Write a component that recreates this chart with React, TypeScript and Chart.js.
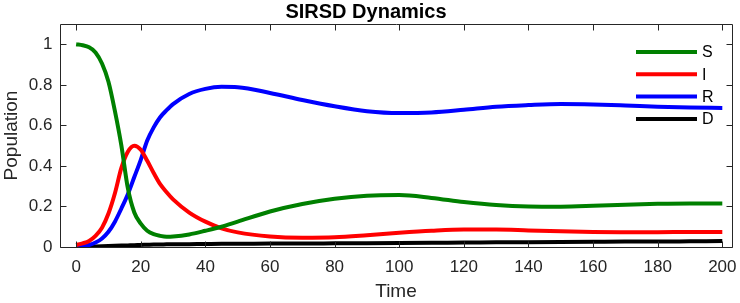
import React, { useEffect, useRef } from 'react';
import { Chart, registerables } from 'chart.js';

Chart.register(...registerables);

const TITLE = 'SIRSD Dynamics';
const X_LABEL = 'Time';
const Y_LABEL = 'Population';

const TIME = [0, 2, 4, 6, 8, 10, 12, 14, 16, 18, 20, 22, 24, 26, 28, 30, 35, 40, 45, 50, 60, 70, 80, 90, 100, 110, 120, 130, 140, 150, 160, 170, 180, 190, 200];

const S_VALUES = [1.0, 0.995, 0.985, 0.96, 0.905, 0.815, 0.67, 0.5, 0.29, 0.17, 0.115, 0.08, 0.063, 0.055, 0.051, 0.052, 0.062, 0.08, 0.1, 0.125, 0.175, 0.212, 0.238, 0.253, 0.256, 0.242, 0.222, 0.207, 0.2, 0.199, 0.203, 0.209, 0.213, 0.215, 0.215];
const I_VALUES = [0.01, 0.018, 0.03, 0.055, 0.095, 0.165, 0.265, 0.39, 0.47, 0.5, 0.48, 0.425, 0.365, 0.31, 0.27, 0.235, 0.17, 0.125, 0.092, 0.072, 0.052, 0.046, 0.048, 0.058, 0.07, 0.08, 0.086, 0.086, 0.082, 0.078, 0.074, 0.073, 0.073, 0.074, 0.074];
const R_VALUES = [0, 0.003, 0.01, 0.022, 0.042, 0.075, 0.125, 0.19, 0.26, 0.345, 0.43, 0.525, 0.59, 0.64, 0.675, 0.705, 0.755, 0.78, 0.79, 0.788, 0.76, 0.725, 0.694, 0.67, 0.661, 0.664, 0.677, 0.692, 0.7, 0.705, 0.703, 0.698, 0.692, 0.688, 0.686];
const D_VALUES = [0, 0.001, 0.002, 0.003, 0.004, 0.005, 0.006, 0.007, 0.008, 0.009, 0.01, 0.011, 0.012, 0.012, 0.013, 0.013, 0.014, 0.015, 0.016, 0.016, 0.017, 0.017, 0.018, 0.019, 0.02, 0.021, 0.022, 0.023, 0.024, 0.025, 0.026, 0.027, 0.027, 0.028, 0.029];

const SERIES_LABELS = ['S', 'I', 'R', 'D'];
const SERIES_COLORS = ['#008000', '#ff0000', '#0000ff', '#000000'];
const SERIES_VALUES = [S_VALUES, I_VALUES, R_VALUES, D_VALUES];

const X_MIN = -5;
const X_MAX = 203;
const X_STEP = 20;
const Y_MIN = 0;
const Y_MAX = 1.1;
const Y_STEP = 0.2;

const FONT = "'Liberation Sans', Arial, Helvetica, sans-serif";
const AXIS_COLOR = '#262626';

const framePlugin = {
  id: 'matlabFrame',
  afterDatasetsDraw(chart: any) {
    const { ctx, chartArea: a, scales } = chart;
    const x = scales.x;
    const y = scales.y;
    const L = Math.round(a.left) + 0.5;
    const R = Math.round(a.right) + 0.5;
    const T = Math.round(a.top) + 0.5;
    const B = Math.round(a.bottom) + 0.5;
    const tl = 6;
    ctx.save();
    ctx.strokeStyle = AXIS_COLOR;
    ctx.lineWidth = 1;
    ctx.beginPath();
    ctx.rect(L, T, R - L, B - T);
    x.ticks.forEach((t: any) => {
      const px = Math.round(x.getPixelForValue(t.value)) + 0.5;
      ctx.moveTo(px, B);
      ctx.lineTo(px, B - tl);
      ctx.moveTo(px, T);
      ctx.lineTo(px, T + tl);
    });
    y.ticks.forEach((t: any) => {
      const py = Math.round(y.getPixelForValue(t.value)) + 0.5;
      ctx.moveTo(L, py);
      ctx.lineTo(L + tl, py);
      ctx.moveTo(R, py);
      ctx.lineTo(R - tl, py);
    });
    ctx.stroke();
    ctx.restore();
  },
  afterDraw(chart: any) {
    const { ctx, chartArea: a } = chart;
    ctx.save();
    chart.data.datasets.forEach((ds: any, i: number) => {
      const yc = a.top + 28 + i * 22.3;
      ctx.strokeStyle = ds.borderColor;
      ctx.lineWidth = 4;
      ctx.beginPath();
      ctx.moveTo(a.right - 96, yc);
      ctx.lineTo(a.right - 35, yc);
      ctx.stroke();
      ctx.fillStyle = '#000';
      ctx.font = `16px ${FONT}`;
      ctx.textBaseline = 'middle';
      ctx.textAlign = 'left';
      ctx.fillText(ds.label, a.right - 30, yc + 1);
    });
    ctx.restore();
  },
};

export default function App() {
  const canvasRef = useRef<HTMLCanvasElement | null>(null);

  useEffect(() => {
    const canvas = canvasRef.current;
    if (!canvas) return;
    const datasets = SERIES_LABELS.map((label, i) => ({
      label,
      data: TIME.map((t, k) => ({ x: t, y: SERIES_VALUES[i][k] })),
      borderColor: SERIES_COLORS[i],
      backgroundColor: SERIES_COLORS[i],
      borderWidth: 4,
      pointRadius: 0,
      pointHoverRadius: 0,
      cubicInterpolationMode: 'monotone' as const,
      fill: false,
      borderJoinStyle: 'round' as const,
    }));
    const chart = new Chart(canvas, {
      type: 'line',
      data: { datasets },
      options: {
        animation: false,
        responsive: false,
        devicePixelRatio: 1,
        layout: { padding: { left: 0, right: 8, top: 0, bottom: 0 } },
        plugins: {
          legend: { display: false },
          tooltip: { enabled: false },
          title: {
            display: true,
            text: TITLE,
            color: '#000',
            font: { family: FONT, size: 20, weight: 'bold', lineHeight: 1.2 },
            padding: { top: 0, bottom: 0 },
          },
        },
        scales: {
          x: {
            type: 'linear',
            min: X_MIN,
            max: X_MAX,
            grid: { display: false, drawTicks: false },
            border: { display: false },
            ticks: {
              stepSize: X_STEP,
              includeBounds: false,
              padding: 10,
              color: AXIS_COLOR,
              font: { family: FONT, size: 17 },
              maxRotation: 0,
              autoSkip: false,
            },
            title: {
              display: true,
              text: X_LABEL,
              color: AXIS_COLOR,
              font: { family: FONT, size: 19 },
              padding: 0,
            },
            afterFit: (s: any) => {
              s.height = 56;
              s.paddingLeft = 0;
              s.paddingRight = 0;
            },
          },
          y: {
            type: 'linear',
            min: Y_MIN,
            max: Y_MAX,
            grid: { display: false, drawTicks: false },
            border: { display: false },
            ticks: {
              stepSize: Y_STEP,
              includeBounds: false,
              padding: 7.5,
              color: AXIS_COLOR,
              font: { family: FONT, size: 17 },
              callback: (v: any) => `${+Number(v).toFixed(1)}`,
            },
            title: {
              display: true,
              text: Y_LABEL,
              color: AXIS_COLOR,
              font: { family: FONT, size: 19 },
              padding: 0,
            },
            afterFit: (s: any) => {
              s.width = 60;
              s.paddingTop = 0;
              s.paddingBottom = 0;
            },
          },
        },
      },
      plugins: [framePlugin],
    } as any);
    return () => chart.destroy();
  }, []);

  return (
    <div style={{ position: 'fixed', left: 0, top: 0, width: 740, height: 303, background: '#fff' }}>
      <canvas ref={canvasRef} width={740} height={303} style={{ display: 'block' }} />
    </div>
  );
}
